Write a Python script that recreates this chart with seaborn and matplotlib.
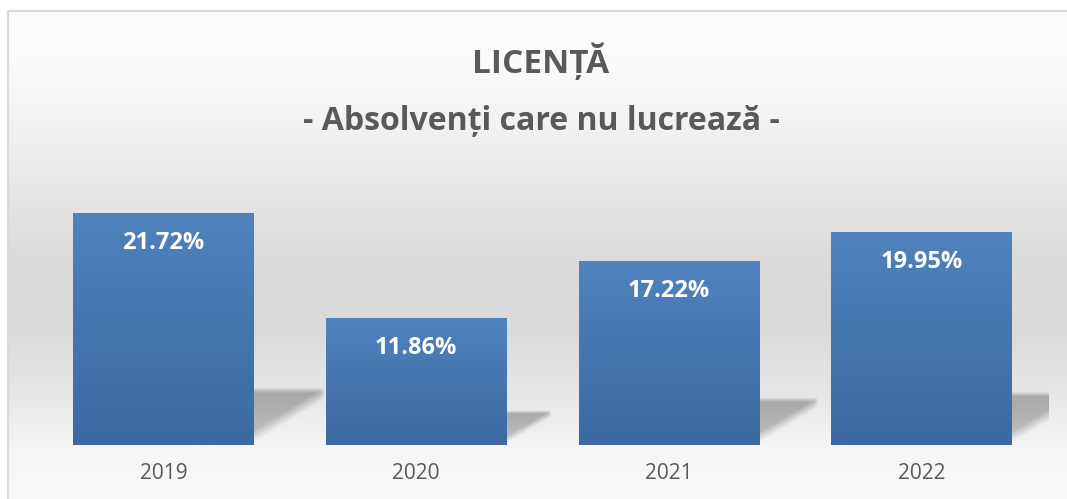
import numpy as np
import pandas as pd
import matplotlib
matplotlib.use("Agg")
import matplotlib.pyplot as plt
import seaborn as sns

years = ["2019", "2020", "2021", "2022"]
share_pct = [21.72, 11.86, 17.22, 19.95]
title_main = "LICENȚĂ"
title_sub = "- Absolvenți care nu lucrează -"

W, H = 1067, 499
sns.set_theme(style="white")
plt.rcParams["font.family"] = ["Open Sans", "DejaVu Sans"]

fig = plt.figure(figsize=(W / 100, H / 100), dpi=100)
fig.patch.set_facecolor("white")

# background panel with vertical gray gradient + thin border
bg = fig.add_axes([0, 0, 1, 1], zorder=-10)
bg.set_xlim(0, W)
bg.set_ylim(H, 0)
bg.axis("off")
stops_y = [11, 60, 120, 200, 260, 330, 400, 450, 499]
stops_v = [253, 251, 243, 229, 218, 218, 232, 246, 249]
yy = np.arange(11, H + 1)
shade = np.interp(yy, stops_y, stops_v) / 255.0
grad = np.repeat(shade[:, None], 2, axis=1)
bg.imshow(np.dstack([grad, grad, grad]), extent=(8, W, H, 11), aspect="auto",
          interpolation="bilinear")
bg.plot([8, 8, W], [H, 10.5, 10.5], color="#d9d9d9", lw=1.6, solid_capstyle="butt")

# main axes
ax = fig.add_axes([37 / W, (H - 445) / H, (1048 - 37) / W, (445 - 178) / H])
ax.set_facecolor("none")
df = pd.DataFrame({"year": years, "pct": share_pct})
sns.barplot(data=df, x="year", y="pct", color="#4a7ab5", width=0.715,
            saturation=1, ax=ax, zorder=3)

# vertical gradient on bars
top_c = np.array([79, 130, 190]) / 255
bot_c = np.array([60, 105, 161]) / 255
t = np.linspace(0, 1, 200)[:, None]
bar_grad = (top_c * (1 - t) + bot_c * t)[:, None, :].repeat(2, axis=1)

for patch, v in zip(ax.patches, share_pct):
    x0, w = patch.get_x(), patch.get_width()
    patch.set_facecolor("none")
    patch.set_edgecolor("none")
    im = ax.imshow(bar_grad, extent=(x0, x0 + w, 0, v), aspect="auto",
                   interpolation="bilinear", zorder=3)
    im.set_clip_path(patch)

    # soft perspective shadow behind the bar
    sh_h = 0.22 * v + 0.65
    sh_w = (0.25 * v * 10.68 + 14) / 253
    nx, ny = 80, 80
    u = np.linspace(0, 1, nx)[None, :]
    s = np.linspace(1, 0, ny)[:, None]
    low = 0.04 + 0.76 * u
    a = np.clip((s - low) / 0.22, 0, 1)
    a = a * np.clip((1 - s) / 0.1, 0, 1)
    a = a * (0.7 + 0.3 * s) * np.clip((1 - u) / 0.06, 0, 1)
    rgba = np.zeros((ny, nx, 4))
    rgba[..., :3] = 0.3
    rgba[..., 3] = a * 0.42
    ax.imshow(rgba, extent=(x0 + w, x0 + w + sh_w, 0, sh_h), aspect="auto",
              interpolation="bilinear", zorder=2)

    ax.annotate(f"{v:.2f}%", xy=(x0 + w / 2, v), xytext=(0, -21.5),
                textcoords="offset points", ha="center", va="center",
                color="white", fontsize=17, fontweight="bold", zorder=5)

ax.set_ylim(0, 25)
ax.set_xlim(-0.5, len(years) - 0.5)
ax.set_xlabel("")
ax.set_ylabel("")
ax.set_yticks([])
ax.tick_params(axis="x", length=0, pad=13, labelsize=15, labelcolor="#595959")
sns.despine(ax=ax, left=True, top=True, right=True, bottom=True)

fig.text(541 / W, 1 - 73 / H, title_main, ha="center", va="baseline",
         fontsize=24, fontweight="bold", color="#595959")
fig.text(541 / W, 1 - 130 / H, title_sub, ha="center", va="baseline",
         fontsize=23, fontweight="bold", color="#595959")

fig.savefig("out.png", dpi=100)
